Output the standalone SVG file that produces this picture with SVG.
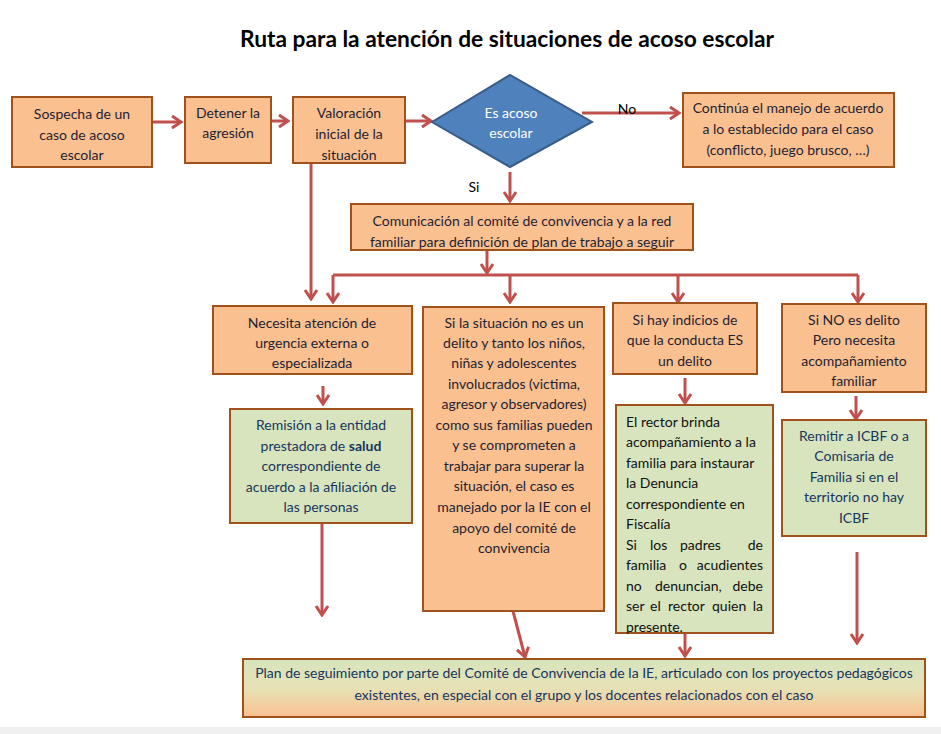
<svg xmlns="http://www.w3.org/2000/svg" width="941" height="734" viewBox="0 0 941 734">
<defs>
<style>
.t{font-family:Lato,"Open Sans","Liberation Sans",sans-serif;font-size:14px;fill:#1f1f33;text-anchor:middle}
.tl{text-anchor:start;fill:#111}
.te{text-anchor:end;fill:#111}
.nv{fill:#17365d}
.wh{fill:#ffffff}
.or{fill:#fac090;stroke:#a0521d;stroke-width:2}
.gr{fill:#d7e4bd;stroke:#a0521d;stroke-width:2}
.c{fill:none;stroke:#c0504d;stroke-width:3;marker-end:url(#ah)}
.cn{fill:none;stroke:#c0504d;stroke-width:3}
</style>
<marker id="ah" markerUnits="userSpaceOnUse" viewBox="-12 -8 14 16" refX="0" refY="0" markerWidth="14" markerHeight="16" orient="auto">
<path d="M-9,-6 L0,0 L-9,6" fill="none" stroke="#c0504d" stroke-width="3" stroke-linejoin="miter"/>
</marker>
<linearGradient id="bg" x1="0" y1="0" x2="0" y2="1">
<stop offset="0" stop-color="#d7e4bd"/>
<stop offset="0.5" stop-color="#e6e2b6"/>
<stop offset="1" stop-color="#fac090"/>
</linearGradient>
</defs>
<rect x="0" y="0" width="941" height="734" fill="#ffffff"/>
<rect x="0" y="727" width="941" height="7" fill="#f0f0f0"/>
<text x="507" y="47" font-family="Lato,'Open Sans','Liberation Sans',sans-serif" font-size="22" font-weight="bold" fill="#000" text-anchor="middle" textLength="534" lengthAdjust="spacingAndGlyphs">Ruta para la atención de situaciones de acoso escolar</text>

<g id="connectors">
<path class="c" d="M152,122 H181"/>
<path class="c" d="M265,121 H288"/>
<path class="c" d="M396,121 H431"/>
<path class="c" d="M582,113 H679"/>
<path class="c" d="M510,172 V201"/>
<path class="c" d="M311,163 V299"/>
<path class="c" d="M487,250 V273"/>
<path class="cn" d="M333,275 H858"/>
<path class="c" d="M333,275 V302"/>
<path class="c" d="M510,275 V302"/>
<path class="c" d="M678,275 V302"/>
<path class="c" d="M858,275 V302"/>
<path class="c" d="M323,386 V404"/>
<path class="c" d="M322,523 V615"/>
<path class="c" d="M513,611 L525,657"/>
<path class="c" d="M685,378 V403"/>
<path class="c" d="M856,396 V419"/>
<path class="c" d="M685,633 V656"/>
<path class="c" d="M857,552 V643"/>
<text x="627" y="114" font-family="Lato,'Liberation Sans',sans-serif" font-size="14" fill="#000" text-anchor="middle">No</text>
<text x="474" y="192" font-family="Lato,'Liberation Sans',sans-serif" font-size="14" fill="#000" text-anchor="middle">Si</text>
</g>

<g id="n1">
<rect class="or" x="12" y="97" width="140" height="70"/>
<text class="t" x="82" y="119">Sospecha de un</text>
<text class="t" x="82" y="140">caso de acoso</text>
<text class="t" x="82" y="160">escolar</text>
</g>
<g id="n2">
<rect class="or" x="185" y="97" width="86" height="66"/>
<text class="t" x="228" y="118">Detener la</text>
<text class="t" x="228" y="138">agresión</text>
</g>
<g id="n3">
<rect class="or" x="293" y="97" width="112" height="66"/>
<text class="t" x="349" y="118">Valoración</text>
<text class="t" x="349" y="139">inicial de la</text>
<text class="t" x="349" y="160">situación</text>
</g>
<g id="n4">
<polygon points="432,122 510,75 592,122 510,167" fill="#4f81bd" stroke="#385d8a" stroke-width="2"/>
<text class="t wh" x="511" y="118">Es acoso</text>
<text class="t wh" x="511" y="138">escolar</text>
</g>
<g id="n5">
<rect class="or" x="683" y="93" width="211" height="74"/>
<text class="t" x="788" y="113">Continúa el manejo de acuerdo</text>
<text class="t" x="788" y="134">a lo establecido para el caso</text>
<text class="t" x="788" y="155">(conflicto, juego brusco, …)</text>
</g>
<g id="n6">
<rect class="or" x="351" y="204" width="342" height="46"/>
<text class="t" x="522" y="226">Comunicación al comité de convivencia y a la red</text>
<text class="t" x="522" y="247">familiar para definición de plan de trabajo a seguir</text>
</g>
<g id="n7">
<rect class="or" x="213" y="306" width="199" height="68"/>
<text class="t" x="312" y="328">Necesita atención  de</text>
<text class="t" x="312" y="348">urgencia externa o</text>
<text class="t" x="312" y="368">especializada</text>
</g>
<g id="n8">
<rect class="or" x="423" y="307" width="181" height="304"/>
<text class="t" x="514" y="328">Si la situación no es un</text>
<text class="t" x="514" y="348">delito y tanto los niños,</text>
<text class="t" x="514" y="368">niñas y adolescentes</text>
<text class="t" x="514" y="389">involucrados (victima,</text>
<text class="t" x="514" y="409">agresor y observadores)</text>
<text class="t" x="514" y="430">como sus familias pueden</text>
<text class="t" x="514" y="450">y se comprometen a</text>
<text class="t" x="514" y="471">trabajar para superar la</text>
<text class="t" x="514" y="491">situación, el caso es</text>
<text class="t" x="514" y="512">manejado por la IE con el</text>
<text class="t" x="514" y="533">apoyo del comité de</text>
<text class="t" x="514" y="553">convivencia</text>
</g>
<g id="n9">
<rect class="or" x="613" y="303" width="144" height="71"/>
<text class="t" x="685" y="325">Si hay indicios de</text>
<text class="t" x="685" y="345">que la conducta ES</text>
<text class="t" x="685" y="366">un  delito</text>
</g>
<g id="n10">
<rect class="or" x="782" y="304" width="144" height="88"/>
<text class="t" x="854" y="325">Si NO es delito</text>
<text class="t" x="854" y="345">Pero necesita</text>
<text class="t" x="854" y="366">acompañamiento</text>
<text class="t" x="854" y="386">familiar</text>
</g>
<g id="n11">
<rect class="gr" x="230" y="409" width="182" height="114"/>
<text class="t nv" x="321" y="430">Remisión a la entidad</text>
<text class="t nv" x="321" y="451">prestadora de <tspan font-weight="bold">salud</tspan></text>
<text class="t nv" x="321" y="471">correspondiente de</text>
<text class="t nv" x="321" y="492">acuerdo a la afiliación de</text>
<text class="t nv" x="321" y="512">las personas</text>
</g>
<g id="n12">
<rect class="gr" x="616" y="405" width="157" height="228"/>
<text class="t tl" x="626" y="427">El rector brinda</text>
<text class="t tl" x="626" y="447">acompañamiento a la</text>
<text class="t tl" x="626" y="468">familia para instaurar</text>
<text class="t tl" x="626" y="488">la Denuncia</text>
<text class="t tl" x="626" y="509">correspondiente en</text>
<text class="t tl" x="626" y="529">Fiscalía</text>
<text class="t tl" x="626" y="550">Si</text><text class="t tl" x="650" y="550">los</text><text class="t tl" x="680" y="550">padres</text><text class="t te" x="763" y="550">de</text>
<text class="t tl" x="626" y="570">familia</text><text class="t tl" x="679" y="570">o</text><text class="t te" x="763" y="570">acudientes</text>
<text class="t tl" x="626" y="591">no</text><text class="t tl" x="655" y="591">denuncian,</text><text class="t te" x="763" y="591">debe</text>
<text class="t tl" x="626" y="611">ser</text><text class="t tl" x="650" y="611">el</text><text class="t tl" x="668" y="611">rector</text><text class="t tl" x="712" y="611">quien</text><text class="t te" x="763" y="611">la</text>
<text class="t tl" x="626" y="632">presente.</text>
</g>
<g id="n13">
<rect class="gr" x="782" y="420" width="144" height="116"/>
<text class="t nv" x="854" y="441">Remitir a ICBF o a</text>
<text class="t nv" x="854" y="461">Comisaria de</text>
<text class="t nv" x="854" y="482">Familia si en el</text>
<text class="t nv" x="854" y="502">territorio no hay</text>
<text class="t nv" x="854" y="523">ICBF</text>
</g>
<g id="n14">
<rect x="243" y="659" width="682" height="58" fill="url(#bg)" stroke="#a0521d" stroke-width="2"/>
<text class="t nv" x="584" y="678">Plan de seguimiento por parte del Comité de Convivencia de la IE, articulado con los proyectos pedagógicos</text>
<text class="t nv" x="584" y="700">existentes, en especial con el grupo y los docentes relacionados con el caso</text>
</g>
</svg>
